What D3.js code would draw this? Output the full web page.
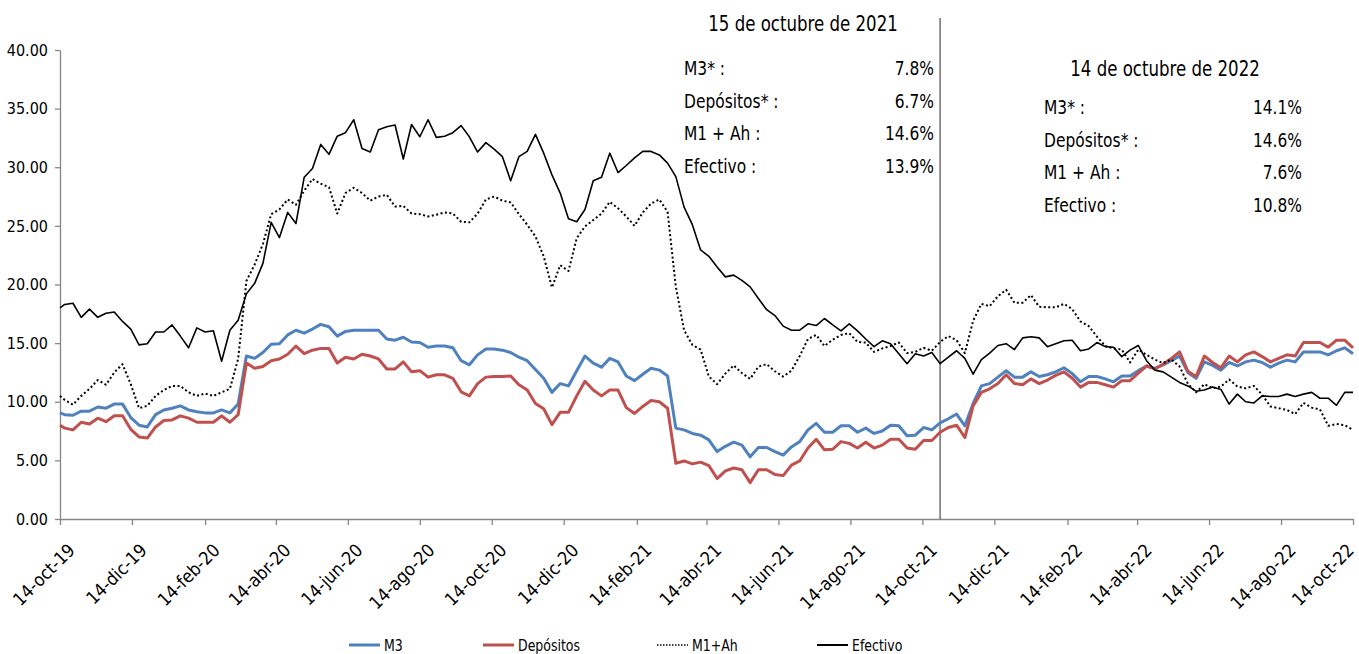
<!DOCTYPE html>
<html>
<head>
<meta charset="utf-8">
<script src="https://cdn.jsdelivr.net/npm/d3@7"></script>
<style>
  body { margin: 0; background: #fff; }
  svg text { font-family: "Liberation Sans Narrow", "DejaVu Sans Condensed", sans-serif; fill: #000; }
</style>
</head>
<body>
<div id="chart"></div>
<script>
// weekly series, first point 14-oct-19 then every Friday from 18-oct-19 to 14-oct-22
const efectivo = [18.0,
  18.3, 18.4, 17.2, 17.9, 17.2, 17.55, 17.65, 16.85, 16.2, 14.85,
  14.95, 15.95, 15.95, 16.55, 15.6, 14.6, 16.3, 15.95, 16.05, 13.45,
  16.1, 16.95, 19.2, 20.1, 21.8, 25.3, 24.0, 26.15, 25.2, 29.15,
  29.9, 31.95, 31.1, 32.65, 32.95, 34.05, 31.6, 31.3, 33.2, 33.45,
  33.6, 30.7, 33.65, 32.6, 34.05, 32.55, 32.65, 32.95, 33.55, 32.6,
  31.3, 32.1, 31.55, 30.9, 28.85, 30.9, 31.35, 32.8, 31.2, 29.35,
  27.8, 25.6, 25.35, 26.4, 28.85, 29.15, 31.2, 29.55, 30.15, 30.8,
  31.35, 31.35, 31.05, 30.35, 29.2, 26.6, 25.1, 22.95, 22.4, 21.5,
  20.65, 20.8, 20.35, 19.8, 18.8, 17.85, 17.35, 16.45, 16.1, 16.1,
  16.65, 16.5, 17.1, 16.55, 16.05, 16.65, 16.05, 15.35, 14.7, 15.2,
  14.95, 14.1, 13.25, 14.1, 13.9, 14.2, 13.25, 13.8, 14.35, 13.7,
  12.35, 13.6, 14.15, 14.8, 14.95, 14.45, 15.45, 15.55, 15.45, 14.7,
  14.95, 15.2, 15.25, 14.35, 14.5, 15.05, 14.7, 14.65, 13.85, 14.4,
  14.8, 13.5, 12.7, 12.55, 12.1, 11.65, 11.35, 10.9, 11.0, 11.25,
  11.05, 9.8, 10.65, 10.0, 9.9, 10.5, 10.45, 10.45, 10.65, 10.45,
  10.65, 10.8, 10.3, 10.3, 9.7, 10.8, 10.8];

const m1ah = [10.5,
  10.15, 9.75, 10.5, 11.1, 11.85, 11.45, 12.5, 13.2, 11.5, 9.45,
  9.65, 10.5, 11.0, 11.35, 11.35, 10.8, 10.5, 10.7, 10.5, 10.8,
  11.1, 13.65, 20.3, 21.7, 23.45, 26.0, 26.4, 27.25, 26.8, 28.0,
  29.0, 28.6, 28.3, 26.05, 27.8, 28.25, 27.8, 27.15, 27.5, 27.65,
  26.65, 26.7, 26.05, 26.0, 25.8, 25.95, 26.15, 26.05, 25.35, 25.3,
  26.05, 27.25, 27.5, 27.15, 27.0, 26.0, 25.1, 24.1, 22.4, 19.75,
  21.65, 21.15, 23.95, 24.95, 25.5, 26.05, 27.05, 26.5, 25.8, 25.0,
  26.15, 26.9, 27.25, 26.2, 19.8, 16.1, 14.85, 14.45, 12.15, 11.5,
  12.4, 13.1, 12.45, 11.95, 13.0, 13.2, 12.6, 12.15, 12.65, 13.9,
  15.35, 15.7, 14.75, 15.3, 15.7, 15.85, 15.1, 15.05, 14.25, 14.55,
  14.75, 15.05, 14.15, 14.25, 14.6, 14.35, 15.1, 15.6, 15.25, 14.15,
  16.9, 18.35, 18.15, 19.0, 19.55, 18.45, 18.45, 19.1, 18.1, 18.05,
  18.05, 18.35, 17.9, 16.85, 16.45, 15.55, 14.75, 14.55, 14.45, 13.35,
  14.45, 14.0, 13.6, 13.3, 13.6, 13.0, 11.55, 10.8, 11.5, 11.15,
  11.3, 11.9, 11.3, 11.15, 11.35, 10.6, 9.6, 9.45, 9.3, 8.95,
  9.9, 9.5, 9.35, 7.95, 8.1, 8.0, 7.6];

const m3 = [9.05,
  8.9, 8.85, 9.2, 9.2, 9.55, 9.45, 9.8, 9.8, 8.65, 8.0,
  7.85, 8.9, 9.3, 9.45, 9.65, 9.3, 9.15, 9.05, 9.05, 9.3,
  9.05, 9.8, 13.9, 13.7, 14.2, 14.9, 14.95, 15.7, 16.1, 15.85,
  16.2, 16.6, 16.4, 15.6, 16.0, 16.1, 16.1, 16.1, 16.1, 15.35,
  15.25, 15.5, 15.1, 15.05, 14.65, 14.75, 14.75, 14.6, 13.5, 13.15,
  14.0, 14.5, 14.5, 14.4, 14.2, 13.8, 13.5, 12.75, 12.0, 10.8,
  11.55, 11.35, 12.65, 13.9, 13.3, 12.95, 13.7, 13.4, 12.2, 11.8,
  12.35, 12.85, 12.7, 12.2, 7.75, 7.6, 7.3, 7.15, 6.75, 5.75,
  6.2, 6.55, 6.3, 5.3, 6.1, 6.1, 5.75, 5.45, 6.15, 6.6,
  7.6, 8.15, 7.4, 7.4, 7.95, 7.95, 7.4, 7.75, 7.3, 7.5,
  8.0, 7.95, 7.1, 7.15, 7.8, 7.6, 8.2, 8.55, 8.95, 7.95,
  9.85, 11.35, 11.55, 12.1, 12.65, 12.1, 12.1, 12.55, 12.15, 12.3,
  12.55, 12.9, 12.4, 11.7, 12.15, 12.15, 11.95, 11.7, 12.2, 12.2,
  12.65, 13.05, 12.85, 13.15, 13.5, 13.9, 12.5, 12.0, 13.4, 13.1,
  12.7, 13.35, 13.05, 13.4, 13.55, 13.35, 12.95, 13.3, 13.55, 13.4,
  14.25, 14.25, 14.25, 14.0, 14.35, 14.6, 14.1];

const depositos = [8.0,
  7.75, 7.6, 8.25, 8.1, 8.6, 8.3, 8.8, 8.8, 7.65, 7.0,
  6.9, 7.85, 8.4, 8.45, 8.8, 8.6, 8.25, 8.25, 8.25, 8.8,
  8.25, 8.9, 13.3, 12.85, 13.0, 13.5, 13.65, 14.05, 14.75, 14.1,
  14.4, 14.55, 14.55, 13.3, 13.8, 13.65, 14.05, 13.9, 13.65, 12.8,
  12.8, 13.4, 12.55, 12.65, 12.1, 12.3, 12.3, 12.0, 10.85, 10.5,
  11.55, 12.1, 12.15, 12.15, 12.2, 11.45, 11.0, 9.85, 9.4, 8.05,
  9.1, 9.1, 10.5, 11.75, 11.0, 10.5, 11.0, 11.0, 9.5, 9.0,
  9.6, 10.1, 10.0, 9.45, 4.75, 4.95, 4.7, 4.85, 4.55, 3.45,
  4.1, 4.35, 4.2, 3.1, 4.2, 4.2, 3.8, 3.7, 4.6, 4.95,
  6.05, 6.8, 5.9, 5.95, 6.6, 6.45, 6.05, 6.55, 6.05, 6.3,
  6.8, 6.8, 6.05, 5.95, 6.7, 6.7, 7.4, 7.8, 8.0, 6.95,
  9.65, 10.8, 11.1, 11.55, 12.3, 11.55, 11.45, 11.95, 11.55, 11.85,
  12.25, 12.55, 12.0, 11.25, 11.65, 11.65, 11.45, 11.25, 11.8, 11.8,
  12.45, 13.05, 12.8, 13.2, 13.7, 14.25, 12.6, 12.15, 13.9, 13.35,
  12.9, 13.9, 13.4, 14.0, 14.25, 13.85, 13.4, 13.7, 14.0, 13.9,
  15.05, 15.05, 15.05, 14.65, 15.25, 15.25, 14.6];

const xTickLabels = ["14-oct-19", "14-dic-19", "14-feb-20", "14-abr-20", "14-jun-20", "14-ago-20",
  "14-oct-20", "14-dic-20", "14-feb-21", "14-abr-21", "14-jun-21", "14-ago-21",
  "14-oct-21", "14-dic-21", "14-feb-22", "14-abr-22", "14-jun-22", "14-ago-22", "14-oct-22"];
const yTicks = [0, 5, 10, 15, 20, 25, 30, 35, 40];

const seriesNames = ["M3", "Depósitos", "M1+Ah", "Efectivo"];

const note2021 = { title: "15 de octubre de 2021", date: "2021-10-29",
  labels: ["M3* :", "Depósitos* :", "M1 + Ah :", "Efectivo :"],
  values: ["7.8%", "6.7%", "14.6%", "13.9%"] };
const note2022 = { title: "14 de octubre de 2022",
  labels: ["M3* :", "Depósitos* :", "M1 + Ah :", "Efectivo :"],
  values: ["14.1%", "14.6%", "7.6%", "10.8%"] };

////////////////////////////////////////////////////////////////////
const width = 1359, height = 654;
const margin = { top: 50, right: 6, bottom: 135, left: 60 };

const svg = d3.select("#chart").append("svg")
  .attr("width", width).attr("height", height);

const meses = { ene: 0, feb: 1, mar: 2, abr: 3, may: 4, jun: 5, jul: 6, ago: 7, sep: 8, oct: 9, nov: 10, dic: 11 };
const parseEs = s => {
  const [d, m, y] = s.split("-");
  return new Date(2000 + +y, meses[m], +d);
};
const tickDates = xTickLabels.map(parseEs);

// dates of the points
const firstFriday = new Date(2019, 9, 18);
const dates = efectivo.map((d, i) => i === 0 ? tickDates[0] : d3.timeDay.offset(firstFriday, 7 * (i - 1)));

const x = d3.scaleTime()
  .domain([tickDates[0], tickDates[tickDates.length - 1]])
  .range([margin.left, width - margin.right]);

const y = d3.scaleLinear()
  .domain([0, 40])
  .range([height - margin.bottom, margin.top]);

// axes
const yAxis = svg.append("g")
  .attr("class", "y-axis")
  .attr("transform", `translate(${margin.left},0)`)
  .call(d3.axisLeft(y).tickValues(yTicks).tickFormat(d3.format(".2f")).tickSize(5).tickSizeOuter(0));
yAxis.selectAll("text").attr("x", -12).style("font-size", "16px");

const xAxis = svg.append("g")
  .attr("class", "x-axis")
  .attr("transform", `translate(0,${height - margin.bottom})`)
  .call(d3.axisBottom(x).tickValues(tickDates).tickFormat((d, i) => xTickLabels[i]).tickSize(6).tickSizeOuter(0));
// last label is pulled back inside the chart, like the original
xAxis.selectAll("text")
  .attr("y", 0).attr("x", 0).attr("dy", "0.35em")
  .attr("text-anchor", "end")
  .attr("transform", (d, i) => i === xTickLabels.length - 1 ? "translate(-3,28) rotate(-45)" : "translate(11,28) rotate(-45)")
  .style("font-size", "18px");

svg.selectAll(".domain, .tick line").attr("stroke", "#868686").attr("stroke-width", 1.3);

// vertical marker
svg.append("line")
  .attr("x1", x(new Date(note2021.date))).attr("x2", x(new Date(note2021.date)))
  .attr("y1", 18).attr("y2", y(0))
  .attr("stroke", "#595959").attr("stroke-width", 1.3);

// lines
const styles = [
  { data: m3, color: "#4F81BD", width: 3, dash: null },
  { data: depositos, color: "#C0504D", width: 3, dash: null },
  { data: m1ah, color: "#000", width: 2, dash: "2,2.5" },
  { data: efectivo, color: "#000", width: 1.6, dash: null }
];

const line = d3.line()
  .x((d, i) => x(dates[i]))
  .y(d => y(d));

svg.selectAll(".serie")
  .data(styles)
  .enter()
  .append("path")
  .attr("class", "serie")
  .attr("fill", "none")
  .attr("stroke", d => d.color)
  .attr("stroke-width", d => d.width)
  .attr("stroke-dasharray", d => d.dash)
  .attr("stroke-linejoin", "round")
  .attr("d", d => line(d.data));

// narrow text (reference font is condensed)
function narrowText(tx, ty, txt, size, sx, anchor) {
  return svg.append("text")
    .attr("transform", `translate(${tx},${ty}) scale(${sx},1)`)
    .attr("text-anchor", anchor || "start")
    .style("font-size", size + "px")
    .text(txt);
}

// annotations
function note(n, cx, ty, xl, xr, y0) {
  narrowText(cx, ty, n.title, 22, 0.84, "middle");
  n.labels.forEach((l, i) => {
    narrowText(xl, y0 + i * 32.5, l, 20, 0.86);
    narrowText(xr, y0 + i * 32.5, n.values[i], 20, 0.86, "end");
  });
}
note(note2021, 803, 31, 684, 934, 75);
note(note2022, 1165, 76, 1044, 1302, 114);

// legend
const legendX = [349, 483, 657, 817];
const legend = svg.selectAll(".legend")
  .data(styles)
  .enter()
  .append("g")
  .attr("class", "legend")
  .attr("transform", (d, i) => `translate(${legendX[i]},645)`);
legend.append("line")
  .attr("x1", 0).attr("x2", 31).attr("y1", 0).attr("y2", 0)
  .attr("stroke", d => d.color)
  .attr("stroke-width", d => d.dash ? 1.5 : d.width === 3 ? 3 : 2)
  .attr("stroke-dasharray", d => d.dash ? "1.5,1.5" : null);
legend.append("text")
  .attr("transform", "translate(35,0) scale(0.87,1)")
  .attr("dy", "0.35em")
  .style("font-size", "16px")
  .text((d, i) => seriesNames[i]);
</script>
</body>
</html>
